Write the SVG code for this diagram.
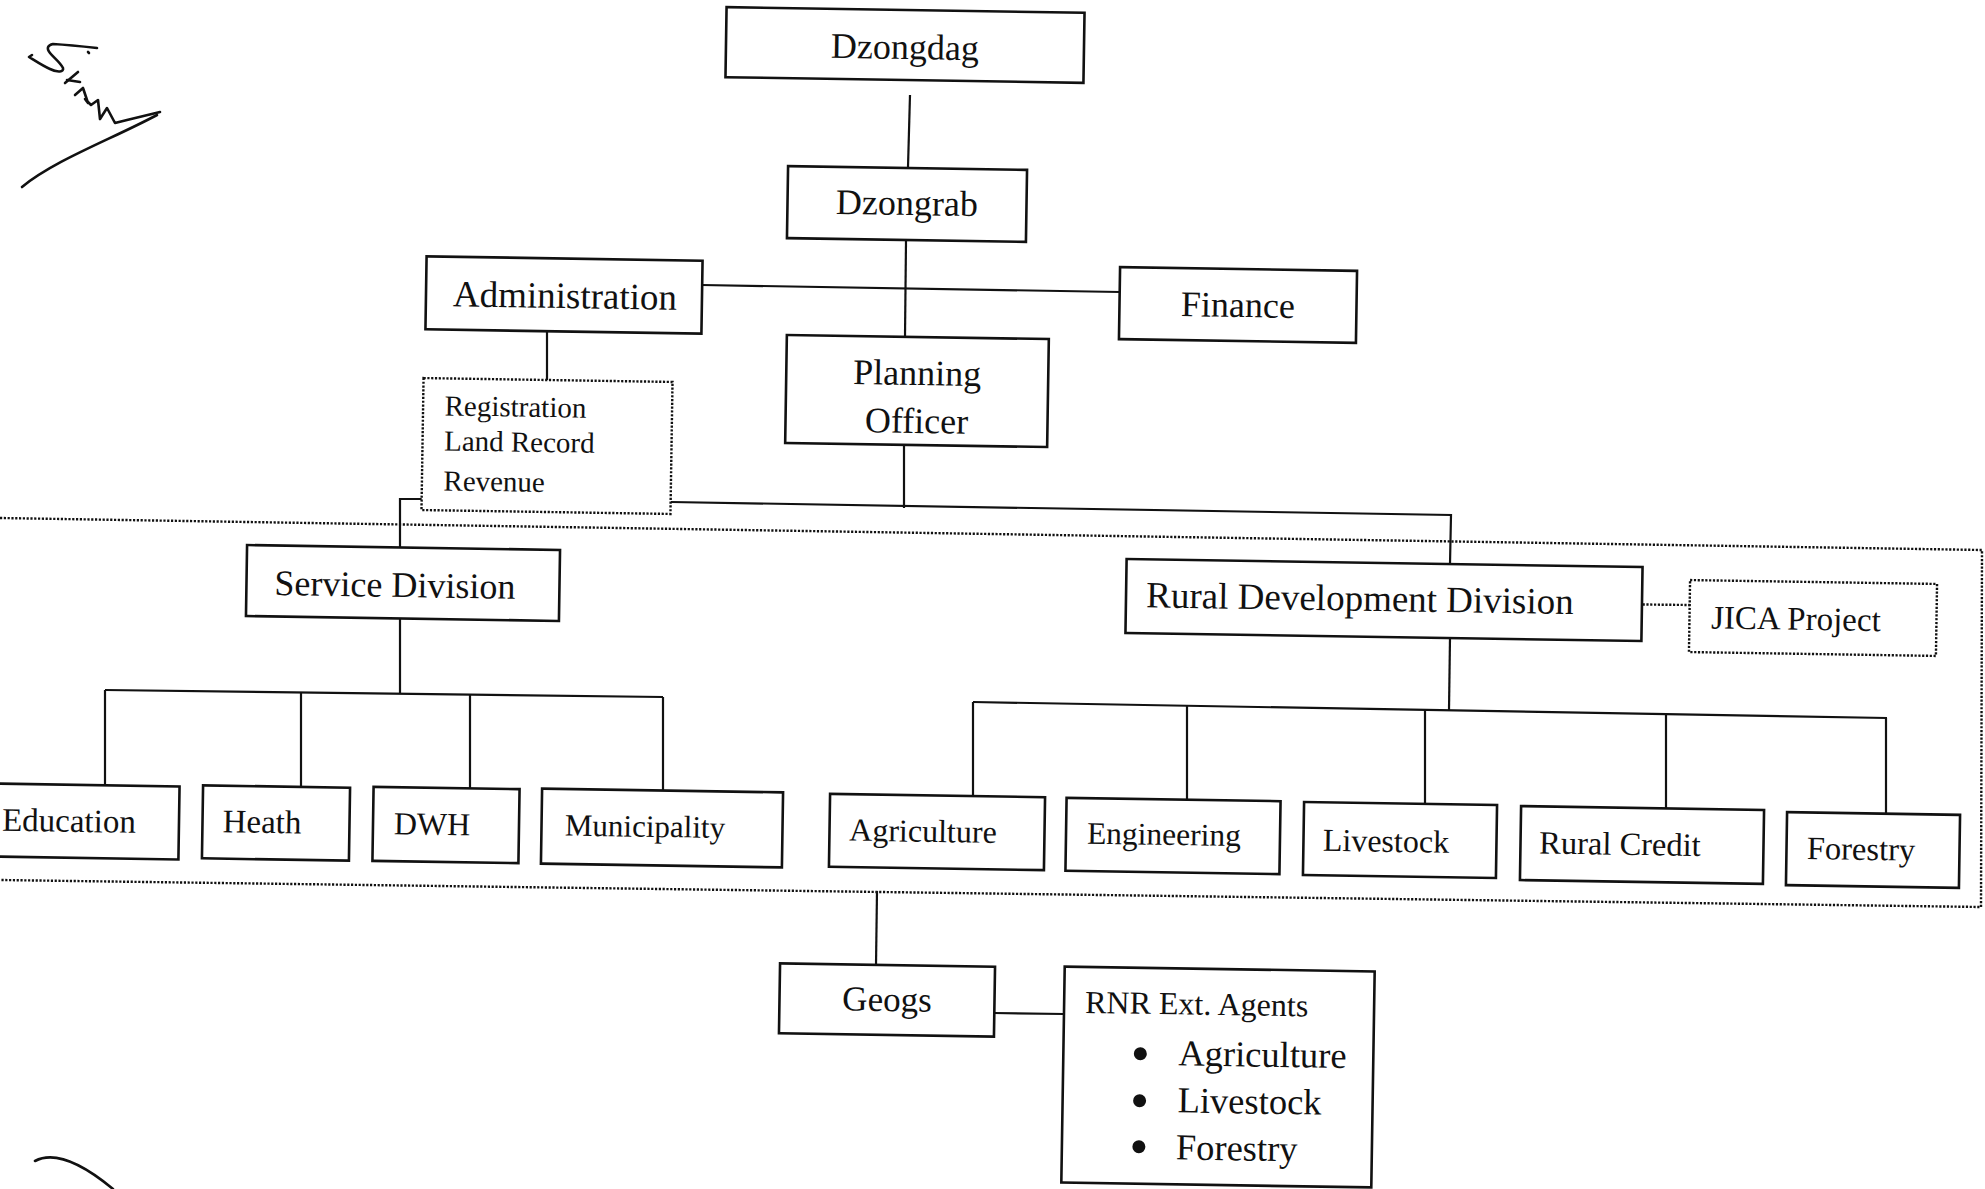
<svg xmlns="http://www.w3.org/2000/svg" width="1985" height="1189" viewBox="0 0 1985 1189">
  <style>
    .box { fill: #ffffff; stroke: #111; stroke-width: 2.6; }
    .dbox { fill: #ffffff; stroke: #111; stroke-width: 2.4; stroke-dasharray: 2.2 1.6; }
    .ln { fill: none; stroke: #111; stroke-width: 2.2; }
    .dot { fill: none; stroke: #111; stroke-width: 2.4; stroke-dasharray: 2.2 1.6; }
    .ink { fill: none; stroke: #111; stroke-width: 2.6; stroke-linecap: round; stroke-linejoin: round; }
    text { font-family: "Liberation Serif", "Times New Roman", serif; fill: #111; }
    .c { text-anchor: middle; }
  </style>
  <rect x="0" y="0" width="1985" height="1189" fill="#ffffff"/>

  <!-- handwritten initials, top left -->
  <g id="signature">
    <path class="ink" d="M97,48 C88,47 70,45 53,44 C48,45 46,48 50,53 C54,58 60,62 63,68 C64,72 58,73 50,69 C43,66 34,60 29,57 L32,55"/>
    <path class="ink" d="M67,80 L80,82"/>
    <path class="ink" d="M65,83 L78,72"/>
    <path class="ink" d="M88,52 L89,53"/>
    <path class="ink" d="M75,95 L83,88 L88,103 L85,99 L91,105 L98,100 L100,119 L107,108 L115,123 L127,120 L160,112"/>
    <path class="ink" d="M157,115 C110,140 55,160 22,187"/>
  </g>
  <!-- pen stroke, bottom left -->
  <path class="ink" d="M35,1161 C52,1152 78,1160 113,1189"/>

  <!-- dotted boundary around the divisions -->
  <g id="division-boundary">
    <polyline class="dot" points="0,518 1982,550 1981,907 0,880"/>
  </g>

  <!-- connectors -->
  <g id="connectors">
    <line class="ln" x1="910" y1="95" x2="908" y2="167"/>
    <line class="ln" x1="906" y1="241" x2="905" y2="337"/>
    <line class="ln" x1="702" y1="285" x2="1120" y2="292"/>
    <line class="ln" x1="547" y1="332" x2="547" y2="380"/>
    <line class="ln" x1="904" y1="446" x2="904" y2="508"/>
    <polyline class="ln" points="671,502 1451,515 1450,564"/>
    <polyline class="ln" points="423,499 400,499 400,548"/>
    <line class="ln" x1="400" y1="619" x2="400" y2="693"/>
    <line class="ln" x1="105" y1="690" x2="663" y2="697"/>
    <line class="ln" x1="105" y1="690" x2="105" y2="786"/>
    <line class="ln" x1="301" y1="693" x2="301" y2="788"/>
    <line class="ln" x1="470" y1="695" x2="470" y2="789"/>
    <line class="ln" x1="663" y1="697" x2="663" y2="792"/>
    <line class="ln" x1="1450" y1="638" x2="1449" y2="710"/>
    <line class="ln" x1="973" y1="702" x2="1887" y2="718"/>
    <line class="ln" x1="973" y1="702" x2="973" y2="796"/>
    <line class="ln" x1="1187" y1="706" x2="1187" y2="800"/>
    <line class="ln" x1="1425" y1="710" x2="1425" y2="804"/>
    <line class="ln" x1="1666" y1="714" x2="1666" y2="809"/>
    <line class="ln" x1="1886" y1="718" x2="1886" y2="814"/>
    <line class="ln" x1="877" y1="891" x2="876" y2="965"/>
    <line class="ln" x1="994" y1="1013" x2="1064" y2="1014"/>
    <line class="dot" x1="1597" y1="604" x2="1690" y2="605"/>
  </g>

  <!-- top level -->
  <g id="dzongdag" transform="rotate(0.9 905 45)">
    <rect class="box" x="726" y="10" width="358" height="70"/>
    <text class="c" x="905" y="59" font-size="36">Dzongdag</text>
  </g>
  <g id="dzongrab" transform="rotate(0.9 907 204)">
    <rect class="box" x="787.5" y="168" width="239" height="72"/>
    <text class="c" x="907" y="215" font-size="36">Dzongrab</text>
  </g>
  <g id="administration" transform="rotate(0.9 564 295)">
    <rect class="box" x="426" y="258.5" width="276" height="73"/>
    <text class="c" x="565" y="308" font-size="37">Administration</text>
  </g>
  <g id="finance" transform="rotate(0.9 1238 305)">
    <rect class="box" x="1119.5" y="269" width="237" height="72"/>
    <text class="c" x="1238" y="317" font-size="36">Finance</text>
  </g>
  <g id="planning-officer" transform="rotate(0.9 917 391)">
    <rect class="box" x="786" y="337" width="262" height="108"/>
    <text class="c" x="917" y="385" font-size="36">Planning</text>
    <text class="c" x="917" y="433" font-size="36">Officer</text>
  </g>
  <g id="registration" transform="rotate(0.9 547 446)">
    <rect class="dbox" x="422.5" y="380" width="249" height="132"/>
    <text x="444" y="417" font-size="29">Registration</text>
    <text x="444" y="452" font-size="29">Land Record</text>
    <text x="444" y="492" font-size="29">Revenue</text>
  </g>

  <!-- divisions -->
  <g id="service-division" transform="rotate(0.9 403 583)">
    <rect class="box" x="246.5" y="547.5" width="313" height="71"/>
    <text class="c" x="395" y="597" font-size="36">Service Division</text>
  </g>
  <g id="rural-development-division" transform="rotate(0.9 1384 600)">
    <rect class="box" x="1126" y="563" width="516" height="74"/>
    <text class="c" x="1360" y="611" font-size="37">Rural Development Division</text>
  </g>
  <g id="jica-project" transform="rotate(0.9 1813 618)">
    <rect class="dbox" x="1689.5" y="582" width="247" height="72"/>
    <text class="c" x="1796" y="630" font-size="33">JICA Project</text>
  </g>

  <!-- service sections -->
  <g id="education" transform="rotate(0.9 85 821)">
    <rect class="box" x="-10" y="785" width="189" height="73"/>
    <text class="c" x="69" y="832" font-size="33">Education</text>
  </g>
  <g id="heath" transform="rotate(0.9 276 823)">
    <rect class="box" x="202.5" y="786.5" width="147" height="73"/>
    <text class="c" x="262" y="833" font-size="33">Heath</text>
  </g>
  <g id="dwh" transform="rotate(0.9 446 825)">
    <rect class="box" x="373" y="788" width="146" height="74"/>
    <text class="c" x="432" y="835" font-size="32">DWH</text>
  </g>
  <g id="municipality" transform="rotate(0.9 662 828)">
    <rect class="box" x="541.5" y="790.5" width="241" height="75"/>
    <text class="c" x="645" y="837" font-size="31">Municipality</text>
  </g>

  <!-- rural development sections -->
  <g id="agriculture" transform="rotate(0.9 937 832)">
    <rect class="box" x="829.5" y="795.5" width="215" height="73"/>
    <text class="c" x="923" y="842" font-size="32">Agriculture</text>
  </g>
  <g id="engineering" transform="rotate(0.9 1173 836)">
    <rect class="box" x="1066" y="799.5" width="214" height="73"/>
    <text class="c" x="1164" y="845" font-size="31.5">Engineering</text>
  </g>
  <g id="livestock" transform="rotate(0.9 1400 840)">
    <rect class="box" x="1303.5" y="803.5" width="193" height="73"/>
    <text class="c" x="1386" y="852" font-size="32">Livestock</text>
  </g>
  <g id="rural-credit" transform="rotate(0.9 1642 845)">
    <rect class="box" x="1520.5" y="808" width="243" height="74"/>
    <text class="c" x="1620" y="855" font-size="32.5">Rural Credit</text>
  </g>
  <g id="forestry" transform="rotate(0.9 1873 850)">
    <rect class="box" x="1786.5" y="813.5" width="173" height="73"/>
    <text class="c" x="1861" y="860" font-size="32.5">Forestry</text>
  </g>

  <!-- field level -->
  <g id="geogs" transform="rotate(0.9 887 1000)">
    <rect class="box" x="779.5" y="965" width="215" height="70"/>
    <text class="c" x="887" y="1011" font-size="35">Geogs</text>
  </g>
  <g id="rnr-ext-agents" transform="rotate(0.9 1218 1077)">
    <rect class="box" x="1063" y="969" width="310" height="216"/>
    <text x="1084" y="1015" font-size="32">RNR Ext. Agents</text>
    <circle cx="1140" cy="1055" r="6.5" fill="#111"/>
    <circle cx="1140" cy="1102" r="6.5" fill="#111"/>
    <circle cx="1140" cy="1148" r="6.5" fill="#111"/>
    <text x="1178" y="1066" font-size="36.5">Agriculture</text>
    <text x="1178" y="1113" font-size="36.5">Livestock</text>
    <text x="1177" y="1160" font-size="36.5">Forestry</text>
  </g>
</svg>
